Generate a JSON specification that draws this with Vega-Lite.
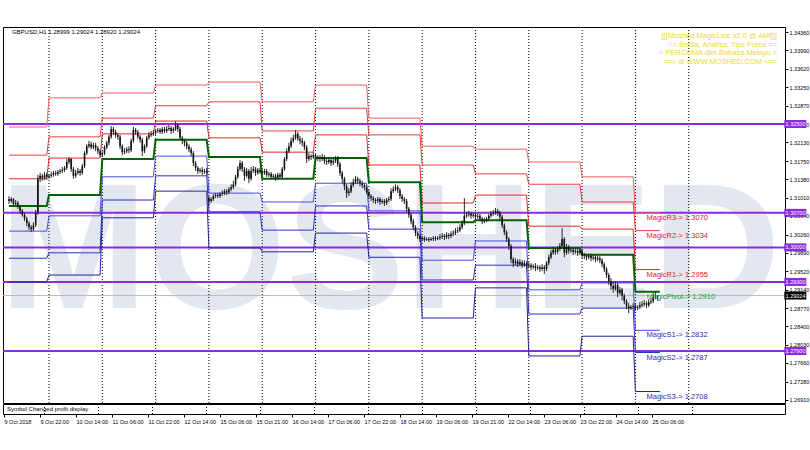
{
"$schema": "https://vega.github.io/schema/vega-lite/v6.json",
"background": "#ffffff",
"padding": {"left": 1, "top": 26, "right": 0, "bottom": 0},
"bounds": "flush",
"spacing": 1,
"config": {
 "view": {"stroke": "#000000", "strokeWidth": 1},
 "axis": {"labelFont": "Liberation Sans", "labelColor": "#000000", "tickColor": "#000000", "domain": false, "grid": false, "labelOverlap": false, "labelFlush": false, "labelBound": false},
 "axisY": {"labelOverlap": false},
 "axisQuantitative": {"labelOverlap": false}
},
"datasets": {
 "grid": [{"d":18},{"d":42},{"d":66},{"d":90},{"d":114},{"d":138},{"d":162},{"d":186},{"d":210},{"d":234},{"d":258},{"d":282},{"d":306}],
 "hl": [{"p":1.325,"t":"1.32500","k":"round"},{"p":1.307,"t":"1.30700","k":"round"},{"p":1.3,"t":"1.30000","k":"round"},{"p":1.293,"t":"1.29300","k":"round"},{"p":1.279,"t":"1.27900","k":"round"},{"p":1.29024,"t":"1.29024","k":"bid"}],
 "mlabels": [{"t":"MagicR3-> 1.3070","p":1.307,"k":"R"},{"t":"MagicR2-> 1.3034","p":1.3034,"k":"R"},{"t":"MagicR1-> 1.2955","p":1.2955,"k":"R"},{"t":"MagicPivot-> 1.2910","p":1.291,"k":"P"},{"t":"MagicS1-> 1.2832","p":1.2832,"k":"S"},{"t":"MagicS2-> 1.2787","p":1.2787,"k":"S"},{"t":"MagicS3-> 1.2708","p":1.2708,"k":"S"}],
 "piv": [
  {"s":0,"e":17,"R3":1.3244,"R2":1.3187,"R1":1.3139,"P":1.3084,"S1":1.3033,"S2":1.2978,"S3":1.2930},
  {"s":18,"e":41,"R3":1.3303,"R2":1.3224,"R1":1.3181,"P":1.3106,"S1":1.3064,"S2":1.2989,"S3":1.2944},
  {"s":42,"e":65,"R3":1.3313,"R2":1.3262,"R1":1.3230,"P":1.3179,"S1":1.3143,"S2":1.3096,"S3":1.3060},
  {"s":66,"e":89,"R3":1.3329,"R2":1.3287,"R1":1.3256,"P":1.3218,"S1":1.3185,"S2":1.3145,"S3":1.3114},
  {"s":90,"e":113,"R3":1.3335,"R2":1.3295,"R1":1.3222,"P":1.3183,"S1":1.3110,"S2":1.3072,"S3":1.2999},
  {"s":114,"e":137,"R3":1.3295,"R2":1.3236,"R1":1.3193,"P":1.3139,"S1":1.3092,"S2":1.3035,"S3":1.2991},
  {"s":138,"e":161,"R3":1.3329,"R2":1.3282,"R1":1.3228,"P":1.3181,"S1":1.3130,"S2":1.3084,"S3":1.3029},
  {"s":162,"e":185,"R3":1.3262,"R2":1.3228,"R1":1.3167,"P":1.3132,"S1":1.3074,"S2":1.3037,"S3":1.2980},
  {"s":186,"e":209,"R3":1.3205,"R2":1.3167,"R1":1.3090,"P":1.3051,"S1":1.2974,"S2":1.2934,"S3":1.2857},
  {"s":210,"e":233,"R3":1.3199,"R2":1.3149,"R1":1.3106,"P":1.3055,"S1":1.3013,"S2":1.2964,"S3":1.2918},
  {"s":234,"e":257,"R3":1.3173,"R2":1.3128,"R1":1.3043,"P":1.2999,"S1":1.2914,"S2":1.2865,"S3":1.2780},
  {"s":258,"e":281,"R3":1.3143,"R2":1.3092,"R1":1.3037,"P":1.2985,"S1":1.2928,"S2":1.2877,"S3":1.2820},
  {"s":282,"e":293,"R3":1.3070,"R2":1.3034,"R1":1.2955,"P":1.2910,"S1":1.2832,"S2":1.2787,"S3":1.2708}
 ],
 "candles": [
{"i":0,"o":1.3098,"h":1.3104,"l":1.3088,"c":1.3094},
{"i":1,"o":1.3094,"h":1.3102,"l":1.3090,"c":1.3098},
{"i":2,"o":1.3098,"h":1.3100,"l":1.3084,"c":1.3088},
{"i":3,"o":1.3088,"h":1.3096,"l":1.3084,"c":1.3090},
{"i":4,"o":1.3090,"h":1.3094,"l":1.3078,"c":1.3082},
{"i":5,"o":1.3082,"h":1.3084,"l":1.3068,"c":1.3074},
{"i":6,"o":1.3074,"h":1.3078,"l":1.3062,"c":1.3066},
{"i":7,"o":1.3066,"h":1.3070,"l":1.3053,"c":1.3058},
{"i":8,"o":1.3058,"h":1.3062,"l":1.3043,"c":1.3049},
{"i":9,"o":1.3049,"h":1.3053,"l":1.3035,"c":1.3041},
{"i":10,"o":1.3041,"h":1.3045,"l":1.3031,"c":1.3037},
{"i":11,"o":1.3037,"h":1.3051,"l":1.3033,"c":1.3045},
{"i":12,"o":1.3045,"h":1.3076,"l":1.3041,"c":1.3070},
{"i":13,"o":1.3070,"h":1.3147,"l":1.3066,"c":1.3139},
{"i":14,"o":1.3139,"h":1.3151,"l":1.3132,"c":1.3145},
{"i":15,"o":1.3145,"h":1.3149,"l":1.3135,"c":1.3141},
{"i":16,"o":1.3141,"h":1.3153,"l":1.3137,"c":1.3147},
{"i":17,"o":1.3147,"h":1.3151,"l":1.3137,"c":1.3143},
{"i":18,"o":1.3143,"h":1.3149,"l":1.3139,"c":1.3145},
{"i":19,"o":1.3145,"h":1.3153,"l":1.3141,"c":1.3147},
{"i":20,"o":1.3147,"h":1.3155,"l":1.3143,"c":1.3151},
{"i":21,"o":1.3151,"h":1.3155,"l":1.3145,"c":1.3149},
{"i":22,"o":1.3149,"h":1.3157,"l":1.3145,"c":1.3153},
{"i":23,"o":1.3153,"h":1.3159,"l":1.3149,"c":1.3155},
{"i":24,"o":1.3155,"h":1.3163,"l":1.3151,"c":1.3157},
{"i":25,"o":1.3157,"h":1.3165,"l":1.3153,"c":1.3161},
{"i":26,"o":1.3161,"h":1.3179,"l":1.3157,"c":1.3173},
{"i":27,"o":1.3173,"h":1.3183,"l":1.3169,"c":1.3179},
{"i":28,"o":1.3179,"h":1.3181,"l":1.3153,"c":1.3159},
{"i":29,"o":1.3159,"h":1.3163,"l":1.3139,"c":1.3145},
{"i":30,"o":1.3145,"h":1.3157,"l":1.3141,"c":1.3151},
{"i":31,"o":1.3151,"h":1.3161,"l":1.3147,"c":1.3155},
{"i":32,"o":1.3155,"h":1.3159,"l":1.3145,"c":1.3151},
{"i":33,"o":1.3151,"h":1.3169,"l":1.3147,"c":1.3165},
{"i":34,"o":1.3165,"h":1.3195,"l":1.3161,"c":1.3191},
{"i":35,"o":1.3191,"h":1.3209,"l":1.3187,"c":1.3205},
{"i":36,"o":1.3205,"h":1.3216,"l":1.3201,"c":1.3209},
{"i":37,"o":1.3209,"h":1.3214,"l":1.3199,"c":1.3203},
{"i":38,"o":1.3203,"h":1.3212,"l":1.3199,"c":1.3207},
{"i":39,"o":1.3207,"h":1.3212,"l":1.3195,"c":1.3201},
{"i":40,"o":1.3201,"h":1.3205,"l":1.3189,"c":1.3195},
{"i":41,"o":1.3195,"h":1.3199,"l":1.3183,"c":1.3187},
{"i":42,"o":1.3187,"h":1.3195,"l":1.3183,"c":1.3191},
{"i":43,"o":1.3191,"h":1.3207,"l":1.3187,"c":1.3203},
{"i":44,"o":1.3203,"h":1.3216,"l":1.3199,"c":1.3212},
{"i":45,"o":1.3212,"h":1.3228,"l":1.3207,"c":1.3224},
{"i":46,"o":1.3224,"h":1.3246,"l":1.3220,"c":1.3240},
{"i":47,"o":1.3240,"h":1.3244,"l":1.3228,"c":1.3234},
{"i":48,"o":1.3234,"h":1.3238,"l":1.3222,"c":1.3228},
{"i":49,"o":1.3228,"h":1.3232,"l":1.3218,"c":1.3224},
{"i":50,"o":1.3224,"h":1.3228,"l":1.3199,"c":1.3205},
{"i":51,"o":1.3205,"h":1.3209,"l":1.3187,"c":1.3193},
{"i":52,"o":1.3193,"h":1.3201,"l":1.3189,"c":1.3195},
{"i":53,"o":1.3195,"h":1.3203,"l":1.3191,"c":1.3199},
{"i":54,"o":1.3199,"h":1.3205,"l":1.3191,"c":1.3197},
{"i":55,"o":1.3197,"h":1.3220,"l":1.3193,"c":1.3216},
{"i":56,"o":1.3216,"h":1.3244,"l":1.3212,"c":1.3238},
{"i":57,"o":1.3238,"h":1.3242,"l":1.3228,"c":1.3234},
{"i":58,"o":1.3234,"h":1.3238,"l":1.3220,"c":1.3224},
{"i":59,"o":1.3224,"h":1.3228,"l":1.3212,"c":1.3218},
{"i":60,"o":1.3218,"h":1.3222,"l":1.3185,"c":1.3195},
{"i":61,"o":1.3195,"h":1.3209,"l":1.3191,"c":1.3205},
{"i":62,"o":1.3205,"h":1.3226,"l":1.3201,"c":1.3222},
{"i":63,"o":1.3222,"h":1.3234,"l":1.3218,"c":1.3228},
{"i":64,"o":1.3228,"h":1.3236,"l":1.3224,"c":1.3230},
{"i":65,"o":1.3230,"h":1.3238,"l":1.3226,"c":1.3232},
{"i":66,"o":1.3232,"h":1.3240,"l":1.3228,"c":1.3236},
{"i":67,"o":1.3236,"h":1.3242,"l":1.3232,"c":1.3238},
{"i":68,"o":1.3238,"h":1.3242,"l":1.3230,"c":1.3234},
{"i":69,"o":1.3234,"h":1.3244,"l":1.3230,"c":1.3240},
{"i":70,"o":1.3240,"h":1.3244,"l":1.3232,"c":1.3236},
{"i":71,"o":1.3236,"h":1.3246,"l":1.3232,"c":1.3240},
{"i":72,"o":1.3240,"h":1.3248,"l":1.3236,"c":1.3242},
{"i":73,"o":1.3242,"h":1.3246,"l":1.3230,"c":1.3236},
{"i":74,"o":1.3236,"h":1.3244,"l":1.3232,"c":1.3240},
{"i":75,"o":1.3240,"h":1.3256,"l":1.3236,"c":1.3248},
{"i":76,"o":1.3248,"h":1.3252,"l":1.3234,"c":1.3240},
{"i":77,"o":1.3240,"h":1.3244,"l":1.3218,"c":1.3222},
{"i":78,"o":1.3222,"h":1.3226,"l":1.3209,"c":1.3216},
{"i":79,"o":1.3216,"h":1.3220,"l":1.3205,"c":1.3212},
{"i":80,"o":1.3212,"h":1.3216,"l":1.3199,"c":1.3205},
{"i":81,"o":1.3205,"h":1.3209,"l":1.3193,"c":1.3199},
{"i":82,"o":1.3199,"h":1.3203,"l":1.3185,"c":1.3191},
{"i":83,"o":1.3191,"h":1.3195,"l":1.3165,"c":1.3171},
{"i":84,"o":1.3171,"h":1.3175,"l":1.3155,"c":1.3161},
{"i":85,"o":1.3161,"h":1.3165,"l":1.3149,"c":1.3155},
{"i":86,"o":1.3155,"h":1.3161,"l":1.3151,"c":1.3157},
{"i":87,"o":1.3157,"h":1.3163,"l":1.3147,"c":1.3153},
{"i":88,"o":1.3153,"h":1.3159,"l":1.3149,"c":1.3155},
{"i":89,"o":1.3155,"h":1.3161,"l":1.3145,"c":1.3151},
{"i":90,"o":1.3100,"h":1.3104,"l":1.3084,"c":1.3094},
{"i":91,"o":1.3094,"h":1.3102,"l":1.3090,"c":1.3098},
{"i":92,"o":1.3098,"h":1.3108,"l":1.3094,"c":1.3104},
{"i":93,"o":1.3104,"h":1.3110,"l":1.3100,"c":1.3106},
{"i":94,"o":1.3106,"h":1.3110,"l":1.3100,"c":1.3104},
{"i":95,"o":1.3104,"h":1.3112,"l":1.3100,"c":1.3108},
{"i":96,"o":1.3108,"h":1.3116,"l":1.3104,"c":1.3110},
{"i":97,"o":1.3110,"h":1.3118,"l":1.3106,"c":1.3114},
{"i":98,"o":1.3114,"h":1.3118,"l":1.3106,"c":1.3112},
{"i":99,"o":1.3112,"h":1.3122,"l":1.3108,"c":1.3118},
{"i":100,"o":1.3118,"h":1.3128,"l":1.3114,"c":1.3122},
{"i":101,"o":1.3122,"h":1.3135,"l":1.3118,"c":1.3128},
{"i":102,"o":1.3128,"h":1.3147,"l":1.3124,"c":1.3143},
{"i":103,"o":1.3143,"h":1.3165,"l":1.3139,"c":1.3159},
{"i":104,"o":1.3159,"h":1.3177,"l":1.3155,"c":1.3171},
{"i":105,"o":1.3171,"h":1.3175,"l":1.3153,"c":1.3159},
{"i":106,"o":1.3159,"h":1.3163,"l":1.3135,"c":1.3145},
{"i":107,"o":1.3145,"h":1.3161,"l":1.3141,"c":1.3155},
{"i":108,"o":1.3155,"h":1.3159,"l":1.3130,"c":1.3139},
{"i":109,"o":1.3139,"h":1.3163,"l":1.3135,"c":1.3155},
{"i":110,"o":1.3155,"h":1.3165,"l":1.3151,"c":1.3159},
{"i":111,"o":1.3159,"h":1.3163,"l":1.3145,"c":1.3151},
{"i":112,"o":1.3151,"h":1.3161,"l":1.3147,"c":1.3157},
{"i":113,"o":1.3157,"h":1.3161,"l":1.3149,"c":1.3153},
{"i":114,"o":1.3153,"h":1.3157,"l":1.3145,"c":1.3151},
{"i":115,"o":1.3151,"h":1.3159,"l":1.3147,"c":1.3155},
{"i":116,"o":1.3155,"h":1.3159,"l":1.3143,"c":1.3147},
{"i":117,"o":1.3147,"h":1.3153,"l":1.3143,"c":1.3149},
{"i":118,"o":1.3149,"h":1.3153,"l":1.3139,"c":1.3143},
{"i":119,"o":1.3143,"h":1.3149,"l":1.3139,"c":1.3145},
{"i":120,"o":1.3145,"h":1.3149,"l":1.3135,"c":1.3141},
{"i":121,"o":1.3141,"h":1.3151,"l":1.3137,"c":1.3147},
{"i":122,"o":1.3147,"h":1.3151,"l":1.3139,"c":1.3143},
{"i":123,"o":1.3143,"h":1.3163,"l":1.3139,"c":1.3159},
{"i":124,"o":1.3159,"h":1.3183,"l":1.3155,"c":1.3179},
{"i":125,"o":1.3179,"h":1.3201,"l":1.3175,"c":1.3195},
{"i":126,"o":1.3195,"h":1.3212,"l":1.3191,"c":1.3205},
{"i":127,"o":1.3205,"h":1.3222,"l":1.3201,"c":1.3216},
{"i":128,"o":1.3216,"h":1.3228,"l":1.3212,"c":1.3222},
{"i":129,"o":1.3222,"h":1.3238,"l":1.3218,"c":1.3230},
{"i":130,"o":1.3230,"h":1.3234,"l":1.3216,"c":1.3220},
{"i":131,"o":1.3220,"h":1.3226,"l":1.3209,"c":1.3216},
{"i":132,"o":1.3216,"h":1.3222,"l":1.3205,"c":1.3212},
{"i":133,"o":1.3212,"h":1.3216,"l":1.3197,"c":1.3203},
{"i":134,"o":1.3203,"h":1.3207,"l":1.3171,"c":1.3179},
{"i":135,"o":1.3179,"h":1.3191,"l":1.3175,"c":1.3185},
{"i":136,"o":1.3185,"h":1.3189,"l":1.3177,"c":1.3183},
{"i":137,"o":1.3183,"h":1.3193,"l":1.3179,"c":1.3187},
{"i":138,"o":1.3187,"h":1.3191,"l":1.3177,"c":1.3183},
{"i":139,"o":1.3183,"h":1.3187,"l":1.3175,"c":1.3181},
{"i":140,"o":1.3181,"h":1.3187,"l":1.3173,"c":1.3179},
{"i":141,"o":1.3179,"h":1.3189,"l":1.3175,"c":1.3183},
{"i":142,"o":1.3183,"h":1.3187,"l":1.3169,"c":1.3175},
{"i":143,"o":1.3175,"h":1.3179,"l":1.3167,"c":1.3173},
{"i":144,"o":1.3173,"h":1.3183,"l":1.3169,"c":1.3177},
{"i":145,"o":1.3177,"h":1.3181,"l":1.3165,"c":1.3171},
{"i":146,"o":1.3171,"h":1.3179,"l":1.3167,"c":1.3175},
{"i":147,"o":1.3175,"h":1.3185,"l":1.3171,"c":1.3181},
{"i":148,"o":1.3181,"h":1.3185,"l":1.3163,"c":1.3169},
{"i":149,"o":1.3169,"h":1.3173,"l":1.3145,"c":1.3151},
{"i":150,"o":1.3151,"h":1.3155,"l":1.3130,"c":1.3139},
{"i":151,"o":1.3139,"h":1.3143,"l":1.3116,"c":1.3124},
{"i":152,"o":1.3124,"h":1.3128,"l":1.3100,"c":1.3110},
{"i":153,"o":1.3110,"h":1.3120,"l":1.3104,"c":1.3114},
{"i":154,"o":1.3114,"h":1.3132,"l":1.3110,"c":1.3126},
{"i":155,"o":1.3126,"h":1.3139,"l":1.3122,"c":1.3132},
{"i":156,"o":1.3132,"h":1.3145,"l":1.3128,"c":1.3139},
{"i":157,"o":1.3139,"h":1.3143,"l":1.3128,"c":1.3135},
{"i":158,"o":1.3135,"h":1.3139,"l":1.3124,"c":1.3130},
{"i":159,"o":1.3130,"h":1.3135,"l":1.3120,"c":1.3126},
{"i":160,"o":1.3126,"h":1.3130,"l":1.3116,"c":1.3122},
{"i":161,"o":1.3122,"h":1.3126,"l":1.3108,"c":1.3112},
{"i":162,"o":1.3112,"h":1.3116,"l":1.3098,"c":1.3104},
{"i":163,"o":1.3104,"h":1.3108,"l":1.3094,"c":1.3100},
{"i":164,"o":1.3100,"h":1.3104,"l":1.3090,"c":1.3096},
{"i":165,"o":1.3096,"h":1.3100,"l":1.3088,"c":1.3094},
{"i":166,"o":1.3094,"h":1.3102,"l":1.3090,"c":1.3098},
{"i":167,"o":1.3098,"h":1.3102,"l":1.3086,"c":1.3092},
{"i":168,"o":1.3092,"h":1.3098,"l":1.3088,"c":1.3094},
{"i":169,"o":1.3094,"h":1.3098,"l":1.3084,"c":1.3090},
{"i":170,"o":1.3090,"h":1.3100,"l":1.3086,"c":1.3096},
{"i":171,"o":1.3096,"h":1.3104,"l":1.3092,"c":1.3098},
{"i":172,"o":1.3098,"h":1.3120,"l":1.3094,"c":1.3114},
{"i":173,"o":1.3114,"h":1.3124,"l":1.3110,"c":1.3118},
{"i":174,"o":1.3118,"h":1.3128,"l":1.3114,"c":1.3122},
{"i":175,"o":1.3122,"h":1.3126,"l":1.3110,"c":1.3116},
{"i":176,"o":1.3116,"h":1.3120,"l":1.3098,"c":1.3104},
{"i":177,"o":1.3104,"h":1.3108,"l":1.3092,"c":1.3098},
{"i":178,"o":1.3098,"h":1.3102,"l":1.3088,"c":1.3094},
{"i":179,"o":1.3094,"h":1.3098,"l":1.3072,"c":1.3078},
{"i":180,"o":1.3078,"h":1.3082,"l":1.3060,"c":1.3066},
{"i":181,"o":1.3066,"h":1.3070,"l":1.3047,"c":1.3053},
{"i":182,"o":1.3053,"h":1.3058,"l":1.3035,"c":1.3041},
{"i":183,"o":1.3041,"h":1.3045,"l":1.3023,"c":1.3029},
{"i":184,"o":1.3029,"h":1.3033,"l":1.3017,"c":1.3023},
{"i":185,"o":1.3023,"h":1.3027,"l":1.3011,"c":1.3017},
{"i":186,"o":1.3017,"h":1.3023,"l":1.3013,"c":1.3019},
{"i":187,"o":1.3019,"h":1.3023,"l":1.3011,"c":1.3015},
{"i":188,"o":1.3015,"h":1.3021,"l":1.3013,"c":1.3017},
{"i":189,"o":1.3017,"h":1.3021,"l":1.3011,"c":1.3015},
{"i":190,"o":1.3015,"h":1.3021,"l":1.3013,"c":1.3017},
{"i":191,"o":1.3017,"h":1.3023,"l":1.3013,"c":1.3019},
{"i":192,"o":1.3019,"h":1.3023,"l":1.3013,"c":1.3017},
{"i":193,"o":1.3017,"h":1.3023,"l":1.3015,"c":1.3019},
{"i":194,"o":1.3019,"h":1.3027,"l":1.3015,"c":1.3021},
{"i":195,"o":1.3021,"h":1.3029,"l":1.3017,"c":1.3023},
{"i":196,"o":1.3023,"h":1.3027,"l":1.3015,"c":1.3021},
{"i":197,"o":1.3021,"h":1.3031,"l":1.3017,"c":1.3025},
{"i":198,"o":1.3025,"h":1.3029,"l":1.3017,"c":1.3023},
{"i":199,"o":1.3023,"h":1.3033,"l":1.3019,"c":1.3027},
{"i":200,"o":1.3027,"h":1.3035,"l":1.3023,"c":1.3029},
{"i":201,"o":1.3029,"h":1.3039,"l":1.3025,"c":1.3033},
{"i":202,"o":1.3033,"h":1.3041,"l":1.3029,"c":1.3035},
{"i":203,"o":1.3035,"h":1.3047,"l":1.3031,"c":1.3041},
{"i":204,"o":1.3041,"h":1.3055,"l":1.3037,"c":1.3049},
{"i":205,"o":1.3049,"h":1.3100,"l":1.3045,"c":1.3064},
{"i":206,"o":1.3064,"h":1.3072,"l":1.3060,"c":1.3066},
{"i":207,"o":1.3066,"h":1.3074,"l":1.3062,"c":1.3068},
{"i":208,"o":1.3068,"h":1.3072,"l":1.3058,"c":1.3064},
{"i":209,"o":1.3064,"h":1.3070,"l":1.3060,"c":1.3066},
{"i":210,"o":1.3066,"h":1.3070,"l":1.3055,"c":1.3062},
{"i":211,"o":1.3062,"h":1.3068,"l":1.3058,"c":1.3064},
{"i":212,"o":1.3064,"h":1.3068,"l":1.3053,"c":1.3058},
{"i":213,"o":1.3058,"h":1.3062,"l":1.3047,"c":1.3053},
{"i":214,"o":1.3053,"h":1.3060,"l":1.3049,"c":1.3055},
{"i":215,"o":1.3055,"h":1.3062,"l":1.3051,"c":1.3058},
{"i":216,"o":1.3058,"h":1.3068,"l":1.3053,"c":1.3064},
{"i":217,"o":1.3064,"h":1.3074,"l":1.3060,"c":1.3068},
{"i":218,"o":1.3068,"h":1.3076,"l":1.3064,"c":1.3070},
{"i":219,"o":1.3070,"h":1.3080,"l":1.3066,"c":1.3074},
{"i":220,"o":1.3074,"h":1.3078,"l":1.3064,"c":1.3070},
{"i":221,"o":1.3070,"h":1.3074,"l":1.3055,"c":1.3062},
{"i":222,"o":1.3062,"h":1.3066,"l":1.3039,"c":1.3045},
{"i":223,"o":1.3045,"h":1.3049,"l":1.3025,"c":1.3031},
{"i":224,"o":1.3031,"h":1.3035,"l":1.3011,"c":1.3017},
{"i":225,"o":1.3017,"h":1.3021,"l":1.2995,"c":1.3003},
{"i":226,"o":1.3003,"h":1.3007,"l":1.2968,"c":1.2976},
{"i":227,"o":1.2976,"h":1.2980,"l":1.2960,"c":1.2968},
{"i":228,"o":1.2968,"h":1.2978,"l":1.2964,"c":1.2972},
{"i":229,"o":1.2972,"h":1.2976,"l":1.2960,"c":1.2966},
{"i":230,"o":1.2966,"h":1.2976,"l":1.2962,"c":1.2970},
{"i":231,"o":1.2970,"h":1.2974,"l":1.2958,"c":1.2964},
{"i":232,"o":1.2964,"h":1.2974,"l":1.2960,"c":1.2968},
{"i":233,"o":1.2968,"h":1.2972,"l":1.2956,"c":1.2962},
{"i":234,"o":1.2962,"h":1.2970,"l":1.2958,"c":1.2964},
{"i":235,"o":1.2964,"h":1.2968,"l":1.2954,"c":1.2960},
{"i":236,"o":1.2960,"h":1.2966,"l":1.2956,"c":1.2962},
{"i":237,"o":1.2962,"h":1.2968,"l":1.2952,"c":1.2958},
{"i":238,"o":1.2958,"h":1.2964,"l":1.2954,"c":1.2960},
{"i":239,"o":1.2960,"h":1.2964,"l":1.2950,"c":1.2956},
{"i":240,"o":1.2956,"h":1.2966,"l":1.2952,"c":1.2960},
{"i":241,"o":1.2960,"h":1.2964,"l":1.2946,"c":1.2956},
{"i":242,"o":1.2956,"h":1.2972,"l":1.2952,"c":1.2968},
{"i":243,"o":1.2968,"h":1.2985,"l":1.2964,"c":1.2980},
{"i":244,"o":1.2980,"h":1.2995,"l":1.2976,"c":1.2989},
{"i":245,"o":1.2989,"h":1.3001,"l":1.2985,"c":1.2995},
{"i":246,"o":1.2995,"h":1.2999,"l":1.2985,"c":1.2991},
{"i":247,"o":1.2991,"h":1.3003,"l":1.2987,"c":1.2997},
{"i":248,"o":1.2997,"h":1.3009,"l":1.2993,"c":1.3003},
{"i":249,"o":1.3003,"h":1.3039,"l":1.2999,"c":1.3017},
{"i":250,"o":1.3017,"h":1.3021,"l":1.2980,"c":1.2989},
{"i":251,"o":1.2989,"h":1.3007,"l":1.2985,"c":1.3001},
{"i":252,"o":1.3001,"h":1.3005,"l":1.2987,"c":1.2993},
{"i":253,"o":1.2993,"h":1.3001,"l":1.2989,"c":1.2995},
{"i":254,"o":1.2995,"h":1.2999,"l":1.2985,"c":1.2991},
{"i":255,"o":1.2991,"h":1.2997,"l":1.2987,"c":1.2993},
{"i":256,"o":1.2993,"h":1.2997,"l":1.2983,"c":1.2989},
{"i":257,"o":1.2989,"h":1.2999,"l":1.2985,"c":1.2993},
{"i":258,"o":1.2993,"h":1.2997,"l":1.2978,"c":1.2985},
{"i":259,"o":1.2985,"h":1.2989,"l":1.2976,"c":1.2983},
{"i":260,"o":1.2983,"h":1.2987,"l":1.2974,"c":1.2980},
{"i":261,"o":1.2980,"h":1.2987,"l":1.2976,"c":1.2983},
{"i":262,"o":1.2983,"h":1.2987,"l":1.2972,"c":1.2978},
{"i":263,"o":1.2978,"h":1.2985,"l":1.2974,"c":1.2980},
{"i":264,"o":1.2980,"h":1.2985,"l":1.2970,"c":1.2976},
{"i":265,"o":1.2976,"h":1.2983,"l":1.2972,"c":1.2978},
{"i":266,"o":1.2978,"h":1.2983,"l":1.2968,"c":1.2974},
{"i":267,"o":1.2974,"h":1.2978,"l":1.2960,"c":1.2966},
{"i":268,"o":1.2966,"h":1.2970,"l":1.2950,"c":1.2956},
{"i":269,"o":1.2956,"h":1.2960,"l":1.2938,"c":1.2944},
{"i":270,"o":1.2944,"h":1.2948,"l":1.2924,"c":1.2932},
{"i":271,"o":1.2932,"h":1.2938,"l":1.2914,"c":1.2922},
{"i":272,"o":1.2922,"h":1.2930,"l":1.2908,"c":1.2916},
{"i":273,"o":1.2916,"h":1.2932,"l":1.2912,"c":1.2924},
{"i":274,"o":1.2924,"h":1.2928,"l":1.2899,"c":1.2908},
{"i":275,"o":1.2908,"h":1.2920,"l":1.2904,"c":1.2914},
{"i":276,"o":1.2914,"h":1.2918,"l":1.2893,"c":1.2902},
{"i":277,"o":1.2902,"h":1.2906,"l":1.2885,"c":1.2891},
{"i":278,"o":1.2891,"h":1.2895,"l":1.2875,"c":1.2881},
{"i":279,"o":1.2881,"h":1.2887,"l":1.2867,"c":1.2877},
{"i":280,"o":1.2877,"h":1.2883,"l":1.2873,"c":1.2879},
{"i":281,"o":1.2879,"h":1.2887,"l":1.2875,"c":1.2881},
{"i":282,"o":1.2881,"h":1.2885,"l":1.2871,"c":1.2877},
{"i":283,"o":1.2877,"h":1.2883,"l":1.2873,"c":1.2879},
{"i":284,"o":1.2879,"h":1.2889,"l":1.2875,"c":1.2883},
{"i":285,"o":1.2883,"h":1.2891,"l":1.2879,"c":1.2885},
{"i":286,"o":1.2885,"h":1.2893,"l":1.2881,"c":1.2887},
{"i":287,"o":1.2887,"h":1.2891,"l":1.2877,"c":1.2883},
{"i":288,"o":1.2883,"h":1.2895,"l":1.2879,"c":1.2889},
{"i":289,"o":1.2889,"h":1.2897,"l":1.2885,"c":1.2891},
{"i":290,"o":1.2891,"h":1.2908,"l":1.2887,"c":1.2899},
{"i":291,"o":1.2899,"h":1.2910,"l":1.2895,"c":1.2900},
{"i":292,"o":1.28999,"h":1.29024,"l":1.28920,"c":1.29024}
 ]
},
"vconcat": [
 {
  "width": 782,
  "height": 376,
  "resolve": {"axis": {"y": "independent"}},
  "layer": [
   {
    "data": {"values": [{"t": "MOSHED"}]},
    "mark": {"type": "text", "font": "Liberation Sans", "fontWeight": "bold", "fontSize": 178, "color": "#e3e8f0", "align": "center", "baseline": "alphabetic", "clip": true},
    "encoding": {
     "x": {"datum": 171.5, "type": "quantitative", "scale": {"domain": [-0.45, 347.1], "nice": false, "zero": false}, "axis": null},
     "y": {"datum": 1.2877, "type": "quantitative", "scale": {"domain": [1.26847, 1.34466], "nice": false, "zero": false},
      "axis": {"orient": "right", "title": null, "values": [1.3436,1.3399,1.3362,1.3325,1.3287,1.325,1.3213,1.3175,1.3138,1.3101,1.3064,1.3026,1.2989,1.2952,1.2914,1.2877,1.284,1.2803,1.2766,1.2728,1.2691], "format": ".5f", "labelFontSize": 5.5, "tickSize": 3, "labelPadding": 1, "labelOverlap": false, "labelFlush": false, "labelBound": false, "labelSeparation": 0, "zindex": 0}},
     "text": {"field": "t"}
    }
   },
   {
    "data": {"name": "grid"},
    "mark": {"type": "rule", "color": "#000000", "strokeDash": [1, 2], "strokeWidth": 1},
    "encoding": {"x": {"field": "d", "type": "quantitative", "axis": null}}
   },
   {
    "data": {"name": "hl"},
    "transform": [{"filter": "datum.k === 'round'"}],
    "mark": {"type": "rule", "color": "#8a2be2", "strokeWidth": 2},
    "encoding": {"y": {"field": "p", "type": "quantitative", "axis": null}}
   },
   {
    "data": {"name": "hl"},
    "transform": [{"filter": "datum.k === 'bid'"}],
    "mark": {"type": "rule", "color": "#b8b8b8", "strokeWidth": 1},
    "encoding": {"y": {"field": "p", "type": "quantitative", "axis": null}}
   },
   {
    "data": {"name": "piv"},
    "transform": [
     {"fold": ["s", "e"], "as": ["edge", "x"]},
     {"fold": ["R3", "R2", "R1", "P", "S1", "S2", "S3"], "as": ["lv", "p"]}
    ],
    "mark": {"type": "line"},
    "encoding": {
     "x": {"field": "x", "type": "quantitative", "axis": null},
     "y": {"field": "p", "type": "quantitative", "axis": null},
     "detail": {"field": "lv"},
     "order": {"field": "x", "type": "quantitative"},
     "stroke": {"field": "lv", "type": "nominal", "scale": {"domain": ["R3", "R2", "R1", "P", "S1", "S2", "S3"], "range": ["#f06060", "#e84040", "#e02828", "#006400", "#4a4ae8", "#3030c8", "#22229a"]}, "legend": null},
     "strokeWidth": {"condition": {"test": "datum.lv === 'P'", "value": 2}, "value": 1}
    }
   },
   {
    "data": {"name": "candles"},
    "mark": {"type": "rule", "color": "#2a2a2a", "strokeWidth": 1},
    "encoding": {
     "x": {"field": "i", "type": "quantitative", "axis": null},
     "y": {"field": "l", "type": "quantitative", "axis": null},
     "y2": {"field": "h"}
    }
   },
   {
    "data": {"name": "candles"},
    "mark": {"type": "bar", "color": "#111111", "width": 1.6},
    "encoding": {
     "x": {"field": "i", "type": "quantitative", "axis": null},
     "y": {"field": "o", "type": "quantitative", "axis": null},
     "y2": {"field": "c"}
    }
   },
   {
    "data": {"name": "mlabels"},
    "mark": {"type": "text", "align": "left", "baseline": "top", "dy": 1, "fontSize": 7.5, "font": "Liberation Sans"},
    "encoding": {
     "x": {"datum": 287, "type": "quantitative"},
     "y": {"field": "p", "type": "quantitative", "axis": null},
     "text": {"field": "t"},
     "color": {"condition": [{"test": "datum.k === 'R'", "value": "#e02020"}, {"test": "datum.k === 'P'", "value": "#18a018"}], "value": "#2a2ab8"}
    }
   },
   {
    "data": {"name": "hl"},
    "mark": {"type": "tick", "orient": "horizontal", "size": 22, "thickness": 8, "opacity": 1},
    "encoding": {
     "x": {"datum": 354, "type": "quantitative"},
     "y": {"field": "p", "type": "quantitative", "axis": null},
     "color": {"condition": {"test": "datum.k === 'bid'", "value": "#000000"}, "value": "#8a2be2"}
    }
   },
   {
    "data": {"name": "hl"},
    "mark": {"type": "text", "align": "left", "baseline": "middle", "fontSize": 5.5, "font": "Liberation Sans", "color": "#ffffff"},
    "encoding": {
     "x": {"datum": 349.6, "type": "quantitative"},
     "y": {"field": "p", "type": "quantitative", "axis": null},
     "text": {"field": "t"}
    }
   },
   {
    "data": {"values": [{"t": "[[[Moshed MagicLine v2.0 @ Akif]]]\n== Berita, Analisa, Tips Forex ==\n= PERCUMA dlm Bahasa Melayu =\n==> di WWW.MOSHED.COM <=="}]},
    "mark": {"type": "text", "align": "right", "baseline": "top", "lineBreak": "\n", "lineHeight": 8.6, "fontSize": 7.5, "font": "Liberation Sans", "color": "#efd92a", "clip": true},
    "encoding": {
     "x": {"datum": 345.8, "type": "quantitative"},
     "y": {"datum": 1.3436, "type": "quantitative", "axis": null},
     "text": {"field": "t"}
    }
   },
   {
    "data": {"values": [{"t": "GBPUSD,H1  1.28999 1.29024 1.28920 1.29024"}]},
    "mark": {"type": "text", "align": "left", "baseline": "middle", "fontSize": 6, "font": "Liberation Sans", "color": "#000000", "clip": true},
    "encoding": {
     "x": {"datum": 1.3, "type": "quantitative"},
     "y": {"datum": 1.3436, "type": "quantitative", "axis": null},
     "text": {"field": "t"}
    }
   }
  ]
 },
 {
  "width": 782,
  "height": 10,
  "layer": [
   {
    "data": {"name": "grid"},
    "mark": {"type": "rule", "color": "#000000", "strokeDash": [1, 2], "strokeWidth": 1},
    "encoding": {
     "x": {"field": "d", "type": "quantitative", "scale": {"domain": [-0.45, 347.1], "nice": false, "zero": false},
      "axis": {"orient": "bottom", "title": null, "values": [0,16,32,48,64,80,96,112,128,144,160,176,192,208,224,240,256,272,288],
       "labelExpr": "['9 Oct 2018','9 Oct 22:00','10 Oct 14:00','11 Oct 06:00','11 Oct 22:00','12 Oct 14:00','15 Oct 06:00','15 Oct 21:00','16 Oct 14:00','17 Oct 06:00','17 Oct 22:00','18 Oct 14:00','19 Oct 06:00','19 Oct 21:00','22 Oct 14:00','23 Oct 06:00','23 Oct 22:00','24 Oct 14:00','25 Oct 06:00'][round(datum.value / 16)]",
       "labelAlign": "left", "labelBaseline": "top", "labelFontSize": 5.5, "labelPadding": 2, "tickSize": 3, "labelOverlap": false, "labelFlush": false, "labelBound": false}}
    }
   },
   {
    "data": {"values": [{"t": "Symbol Changed profit display"}]},
    "mark": {"type": "text", "align": "left", "baseline": "middle", "fontSize": 6, "font": "Liberation Sans", "color": "#000000"},
    "encoding": {
     "x": {"datum": 1.3, "type": "quantitative"},
     "y": {"datum": 0.5, "type": "quantitative", "scale": {"domain": [0, 1]}, "axis": null},
     "text": {"field": "t"}
    }
   }
  ]
 }
]
}
